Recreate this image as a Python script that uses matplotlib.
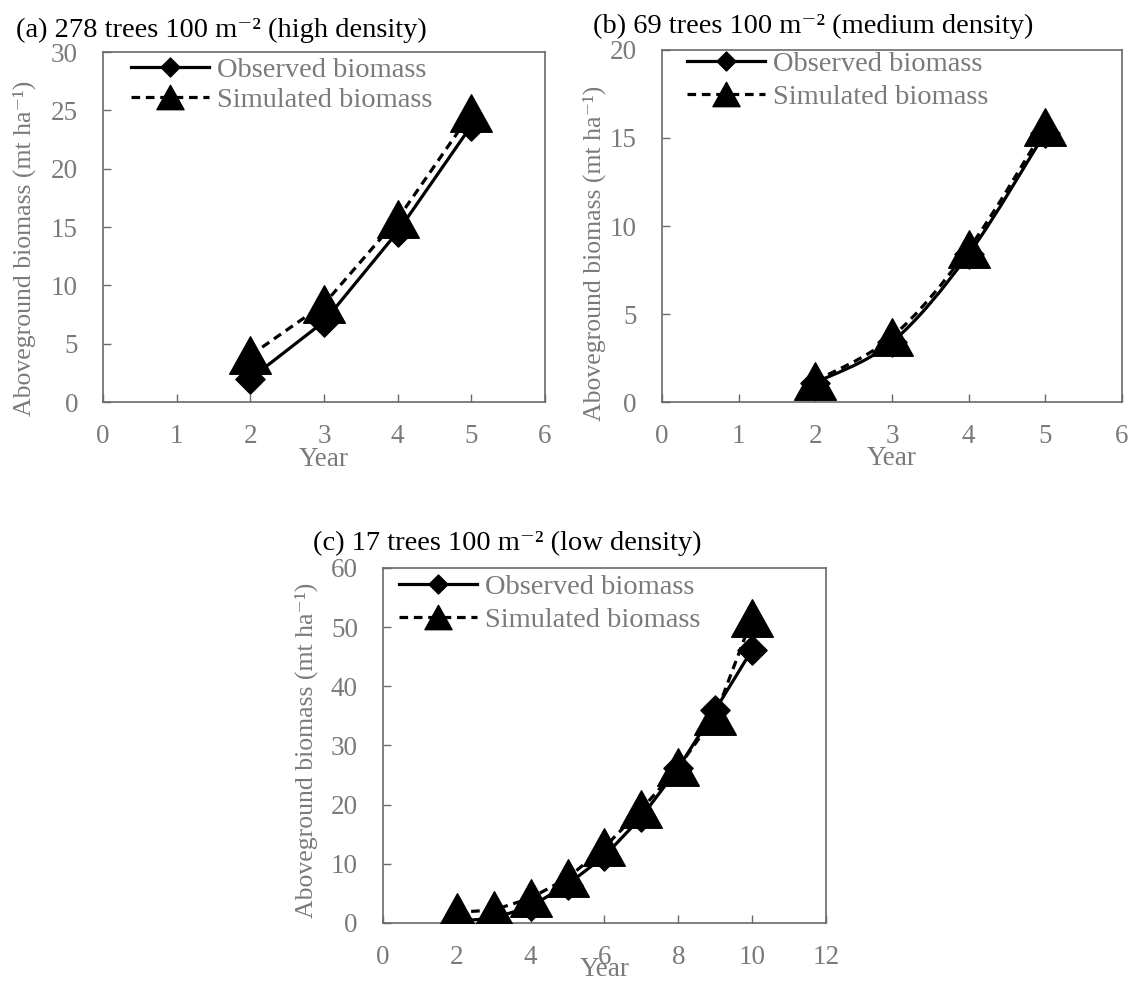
import numpy as np
import matplotlib
matplotlib.use("Agg")
import matplotlib.pyplot as plt
from matplotlib.path import Path
from matplotlib.patches import PathPatch
from matplotlib.lines import Line2D

plt.rcParams["font.family"] = ["Liberation Serif", "DejaVu Serif"]

# ---- data -------------------------------------------------------------
years_a = [2, 3, 4, 5]
observed_a = [2.0, 6.9, 14.6, 23.7]
simulated_a = [4.0, 8.4, 15.7, 24.8]

years_b = [2, 3, 4, 5]
observed_b = [1.1, 3.4, 8.4, 15.3]
simulated_b = [1.2, 3.7, 8.7, 15.6]

years_c = [2, 3, 4, 5, 6, 7, 8, 9, 10]
observed_c = [0.3, 0.8, 2.8, 6.5, 11.3, 17.9, 26.2, 36.0, 46.2]
simulated_c = [1.8, 2.2, 4.2, 7.6, 12.8, 19.2, 26.3, 35.0, 51.5]

titles = [
    "(a) 278 trees 100 m\u207b\u00b2 (high density)",
    "(b) 69 trees 100 m\u207b\u00b2 (medium density)",
    "(c) 17 trees 100 m\u207b\u00b2 (low density)",
]
series_labels = ["Observed biomass", "Simulated biomass"]
y_label = "Aboveground biomass (mt ha\u207b\u00b9)"
x_label = "Year"

# ---- styling ----------------------------------------------------------
GRAY_TEXT = "#7a7a7a"
SPINE = "#6a6a6a"
FS = 20.5
TICK_FS = 19.5
YLAB_FS = 18.5
LW = 2.3
DASH = (0, (2.7, 1.8))

TRI = Path([(0, 0.9), (-1, -0.9), (1, -0.9), (0, 0.9)],
           [Path.MOVETO, Path.LINETO, Path.LINETO, Path.CLOSEPOLY])
DIA = Path([(0, 1), (1, 0), (0, -1), (-1, 0), (0, 1)],
           [Path.MOVETO, Path.LINETO, Path.LINETO, Path.LINETO, Path.CLOSEPOLY])
TRI_MS = 30
DIA_MS = 21


def smooth_path(xs, ys, tension=1.0 / 6.0):
    """Cubic Bezier curve through the points (spreadsheet-style smoothing)."""
    pts = np.column_stack([xs, ys]).astype(float)
    n = len(pts)
    verts = [pts[0]]
    codes = [Path.MOVETO]
    for i in range(n - 1):
        p0 = pts[i - 1] if i > 0 else pts[i]
        p1, p2 = pts[i], pts[i + 1]
        p3 = pts[i + 2] if i + 2 < n else pts[i + 1]
        verts += [p1 + (p2 - p0) * tension, p2 - (p3 - p1) * tension, p2]
        codes += [Path.CURVE4] * 3
    return Path(verts, codes)


fig = plt.figure(figsize=(11.36, 9.82), dpi=100)
fig.patch.set_facecolor("white")

panels = [
    dict(rect=[0.0907, 0.5906, 0.3891, 0.3564], x=years_a, obs=observed_a,
         sim=simulated_a, xlim=(0, 6), xstep=1, ylim=(0, 30), ystep=5,
         smooth=False, title=titles[0], title_xy=(16, 37),
         ylab=(-0.179, 0.44), xlab=-0.163, leg=(0.063, 0.986), lsp=0.16),
    dict(rect=[0.5827, 0.5906, 0.4049, 0.3585], x=years_b, obs=observed_b,
         sim=simulated_b, xlim=(0, 6), xstep=1, ylim=(0, 20), ystep=5,
         smooth=True, title=titles[1], title_xy=(593, 33),
         ylab=(-0.148, 0.423), xlab=-0.16, leg=(0.055, 0.997), lsp=0.24),
    dict(rect=[0.3371, 0.0601, 0.3900, 0.3615], x=years_c, obs=observed_c,
         sim=simulated_c, xlim=(0, 12), xstep=2, ylim=(0, 60), ystep=10,
         smooth=False, title=titles[2], title_xy=(313, 550),
         ylab=(-0.174, 0.487), xlab=-0.13, leg=(0.036, 0.983), lsp=0.24),
]

W, H = 1136.0, 982.0

for p in panels:
    ax = fig.add_axes(p["rect"])
    ax.set_xlim(*p["xlim"])
    ax.set_ylim(*p["ylim"])
    ax.set_xticks(np.arange(p["xlim"][0], p["xlim"][1] + 0.1, p["xstep"]))
    ax.set_yticks(np.arange(p["ylim"][0], p["ylim"][1] + 0.1, p["ystep"]))
    ax.xaxis.set_major_formatter(plt.FormatStrFormatter("%d"))
    ax.yaxis.set_major_formatter(plt.FormatStrFormatter("%d"))

    for s in ax.spines.values():
        s.set_color(SPINE)
        s.set_linewidth(1.2)
    ax.tick_params(axis="both", direction="in", length=6, width=1.0,
                   color=SPINE, labelsize=TICK_FS, labelcolor=GRAY_TEXT)
    ax.tick_params(axis="y", pad=18)
    ax.tick_params(axis="x", pad=16)

    # observed series: solid line + diamonds
    if p["smooth"]:
        ax.add_patch(PathPatch(smooth_path(p["x"], p["obs"]), facecolor="none",
                               edgecolor="black", lw=LW, zorder=2))
        ax.plot(p["x"], p["obs"], linestyle="none", marker=DIA, ms=DIA_MS,
                mfc="black", mec="black", mew=1, zorder=3)
    else:
        ax.plot(p["x"], p["obs"], color="black", lw=LW, marker=DIA, ms=DIA_MS,
                mfc="black", mec="black", mew=1, zorder=3)

    # simulated series: dashed line + triangles
    if p["smooth"]:
        ax.add_patch(PathPatch(smooth_path(p["x"], p["sim"]), facecolor="none",
                               edgecolor="black", lw=LW, linestyle=DASH,
                               zorder=4))
        ax.plot(p["x"], p["sim"], linestyle="none", marker=TRI, ms=TRI_MS,
                mfc="black", mec="black", mew=1, zorder=5)
    else:
        ax.plot(p["x"], p["sim"], color="black", lw=LW, linestyle=DASH,
                marker=TRI, ms=TRI_MS, mfc="black", mec="black", mew=1,
                zorder=5)

    handles = [
        Line2D([], [], color="black", lw=LW, marker=DIA, ms=DIA_MS,
               mfc="black", mec="black", mew=1),
        Line2D([], [], color="black", lw=LW, linestyle=DASH, marker=TRI,
               ms=TRI_MS, mfc="black", mec="black", mew=1),
    ]
    ax.legend(handles, series_labels, loc="upper left",
              bbox_to_anchor=p["leg"], frameon=False, borderpad=0,
              borderaxespad=0, handlelength=2.73, handletextpad=0.29,
              labelspacing=p["lsp"], markerscale=0.65, numpoints=1,
              prop={"size": FS}, labelcolor=GRAY_TEXT)

    ax.set_ylabel(y_label, fontsize=YLAB_FS, color=GRAY_TEXT, va="center")
    ax.yaxis.set_label_coords(*p["ylab"])
    ax.set_xlabel(x_label, fontsize=TICK_FS, color=GRAY_TEXT, va="center")
    ax.xaxis.set_label_coords(0.5, p["xlab"])

    tx, ty = p["title_xy"]
    fig.text(tx / W, 1 - ty / H, p["title"], fontsize=FS, color="black",
             ha="left", va="baseline")

fig.savefig("out.png", dpi=100, facecolor="white")
